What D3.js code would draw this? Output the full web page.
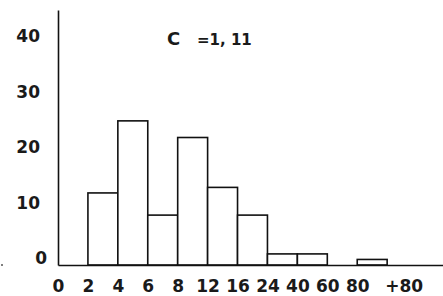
<!DOCTYPE html>
<html>
<head>
<meta charset="utf-8">
<script src="https://cdn.jsdelivr.net/npm/d3@7"></script>
<style>
  body { margin: 0; background: #fff; }
  svg { display: block; }
  text { font-family: "DejaVu Sans", sans-serif; font-weight: bold; fill: #1a1a1a; }
</style>
</head>
<body>
<div id="chart"></div>
<script>
// bin edges along the x axis (equal-width classes)
const edgeLabels = ['0', '2', '4', '6', '8', '12', '16', '24', '40', '60', '80', '+80'];
// frequency in each class between successive edges
const counts = [0, 13, 26, 9, 23, 14, 9, 2, 2, 0, 1];
const yTicks = [0, 10, 20, 30, 40];

const width = 443, height = 296;
const font = '"DejaVu Sans", sans-serif';
const svg = d3.select('#chart').append('svg')
    .attr('width', width)
    .attr('height', height);

const x = d3.scaleLinear().domain([0, 12.9]).range([58, 444]);
const y = d3.scaleLinear().domain([0, 46]).range([265, 10]);

// bars
svg.append('g')
    .selectAll('rect')
    .data(counts.map((c, i) => ({c, i})).filter(d => d.c > 0))
    .join('rect')
    .attr('x', d => x(d.i))
    .attr('y', d => y(d.c))
    .attr('width', d => x(d.i + 1) - x(d.i))
    .attr('height', d => y(0) - y(d.c))
    .attr('fill', '#fff')
    .attr('stroke', '#111')
    .attr('stroke-width', 1.6);

// y axis
const yAxis = svg.append('g')
    .attr('transform', `translate(${x(0)},0)`)
    .call(d3.axisLeft(y).tickValues(yTicks).tickSize(0).tickSizeOuter(0).tickPadding(18));
yAxis.select('.domain').attr('stroke', '#111').attr('stroke-width', 1.6);
yAxis.selectAll('text')
    .attr('dy', '-0.08em')
    .attr('dx', d => d === 0 ? 7 : 0)
    .style('font-size', '17px')
    .style('font-family', font)
    .style('font-weight', 'bold')
    .attr('fill', '#1a1a1a');

// x axis
const xAxis = svg.append('g')
    .attr('transform', `translate(0,${y(0)})`)
    .call(d3.axisBottom(x)
        .tickValues(edgeLabels.map((d, i) => i === 11 ? 11.55 : i))
        .tickFormat((d, i) => edgeLabels[i])
        .tickSize(0).tickSizeOuter(0).tickPadding(15));
xAxis.select('.domain').attr('stroke', '#111').attr('stroke-width', 1.6);
xAxis.selectAll('text')
    .style('font-size', '17px')
    .style('font-family', font)
    .style('font-weight', 'bold')
    .attr('fill', '#1a1a1a');

// annotation
svg.append('text').attr('x', 167).attr('y', 45).style('font-size', '18px').text('C');
svg.append('text').attr('x', 197).attr('y', 45).style('font-size', '15px').text('=1, 11');

// small stray mark at the left edge
svg.append('circle').attr('cx', 2).attr('cy', y(0)).attr('r', 1).attr('fill', '#555');
</script>
</body>
</html>
